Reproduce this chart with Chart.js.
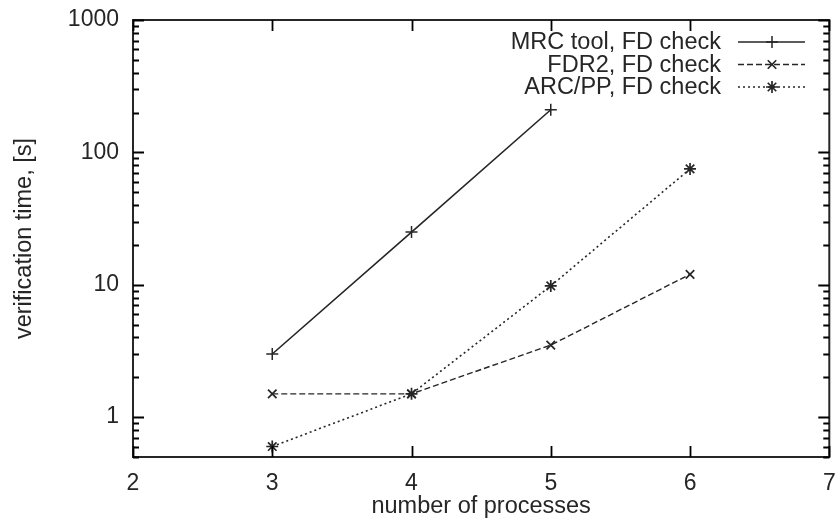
<!DOCTYPE html>
<html>
<head>
<meta charset="utf-8">
<script src="https://cdn.jsdelivr.net/npm/chart.js@4/dist/chart.umd.min.js"></script>
<style>
html,body{margin:0;padding:0;background:#fff;}
#wrap{width:837px;height:521px;position:relative;}
</style>
</head>
<body>
<div id="wrap"><canvas id="c" width="837" height="521"></canvas></div>
<script>
const processes = [3, 4, 5, 6];
const seriesNames = ["MRC tool, FD check", "FDR2, FD check", "ARC/PP, FD check"];
const mrcTimes = [3, 25, 210];
const fdr2Times = [1.5, 1.5, 3.5, 12];
const arcTimes = [0.6, 1.5, 9.8, 75];
const xTickLabels = [2, 3, 4, 5, 6, 7];
const yTickLabels = [1, 10, 100, 1000];
const yMinorTicks = [0.5, 0.6, 0.7, 0.8, 0.9, 2, 3, 4, 5, 6, 7, 8, 9, 20, 30, 40, 50, 60, 70, 80, 90, 200, 300, 400, 500, 600, 700, 800, 900];

const FONT = "'Liberation Sans', Arial, Helvetica, sans-serif";
const INK = '#262626';

function pts(vals){ return vals.map((v,i)=>({x:processes[i], y:v})); }

const frame = {
  id:'frame',
  afterDraw(chart){
    const ctx = chart.ctx;
    const a = chart.chartArea, x = chart.scales.x, y = chart.scales.y;
    ctx.save();
    ctx.setLineDash([]);
    ctx.lineCap = 'butt';
    ctx.strokeStyle = INK;
    ctx.lineWidth = 2;
    ctx.strokeRect(a.left, a.top, a.right-a.left, a.bottom-a.top);
    ctx.beginPath();
    const ty = (v, len) => {
      const py = Math.round(y.getPixelForValue(v)) + 0.5;
      ctx.moveTo(a.left, py); ctx.lineTo(a.left + len, py);
      ctx.moveTo(a.right, py); ctx.lineTo(a.right - len, py);
    };
    yTickLabels.forEach(v=>ty(v, 11));
    yMinorTicks.forEach(v=>ty(v, 6));
    xTickLabels.forEach(v=>{
      const px = Math.round(x.getPixelForValue(v)) + 0.5;
      ctx.moveTo(px, a.bottom); ctx.lineTo(px, a.bottom - 11);
      ctx.moveTo(px, a.top); ctx.lineTo(px, a.top + 11);
    });
    ctx.lineWidth = 1.8;
    ctx.strokeStyle = '#000';
    ctx.stroke();

    ctx.font = "23.5px " + FONT;
    ctx.textAlign = 'right';
    ctx.textBaseline = 'middle';
    const rows = [42, 64.5, 87];
    chart.data.datasets.forEach((ds, i)=>{
      const yy = rows[i];
      ctx.fillStyle = INK;
      ctx.fillText(ds.label, 721, yy+1);
      ctx.beginPath();
      ctx.strokeStyle = ds.borderColor;
      ctx.lineWidth = ds.borderWidth;
      ctx.setLineDash(ds.borderDash || []);
      ctx.moveTo(738, yy); ctx.lineTo(805, yy);
      ctx.stroke();
      ctx.setLineDash([]);
      ctx.strokeStyle = ds.borderColor;
      ctx.fillStyle = ds.borderColor;
      ctx.lineWidth = ds.pointBorderWidth;
      Chart.helpers.drawPoint(ctx, {pointStyle: ds.pointStyle, radius: ds.pointRadius, rotation:0, borderWidth: ds.pointBorderWidth}, 772, yy);
    });
    ctx.restore();
  }
};

new Chart(document.getElementById('c'), {
  type: 'line',
  data: {
    datasets: [
      {label: seriesNames[0], data: pts(mrcTimes), borderColor: INK, backgroundColor: INK, borderWidth: 1.6,
       pointStyle: 'cross', pointRadius: 6, pointBorderWidth: 1.5, pointBorderColor: INK},
      {label: seriesNames[1], data: pts(fdr2Times), borderColor: INK, backgroundColor: INK, borderWidth: 1.4, borderDash:[6,3],
       pointStyle: 'crossRot', pointRadius: 6, pointBorderWidth: 1.7, pointBorderColor: INK},
      {label: seriesNames[2], data: pts(arcTimes), borderColor: INK, backgroundColor: INK, borderWidth: 1.6, borderDash:[2,3],
       pointStyle: 'star', pointRadius: 6, pointBorderWidth: 1.7, pointBorderColor: INK}
    ]
  },
  options: {
    responsive: false,
    animation: false,
    layout: {padding: {left: 10, right: 5, top: 20, bottom: 0}},
    plugins: {legend: {display: false}, tooltip: {enabled: false}},
    scales: {
      x: {
        type: 'linear', min: 2, max: 7,
        afterBuildTicks(s){ s.ticks = xTickLabels.map(v=>({value:v})); },
        grid: {display: false, drawTicks: false},
        border: {display: false},
        ticks: {font: {family: FONT, size: 23}, color: INK, padding: 13, maxRotation: 0},
        title: {display: true, text: 'number of processes', font: {family: FONT, size: 23.5}, color: INK, padding: {top: 0, bottom: 0}},
        afterFit(s){ s.height = 64; s.paddingLeft = 0; s.paddingRight = 0; }
      },
      y: {
        type: 'logarithmic', min: 0.5, max: 1000,
        afterBuildTicks(s){ s.ticks = yTickLabels.map(v=>({value:v})); },
        grid: {display: false, drawTicks: false},
        border: {display: false},
        ticks: {font: {family: FONT, size: 23}, color: INK, padding: 14, autoSkip: false,
          callback(v){ return String(v); }},
        title: {display: true, text: 'verification time, [s]', font: {family: FONT, size: 23.5}, color: INK, padding: {top: 0, bottom: 0}},
        afterFit(s){ s.width = 123; s.paddingTop = 0; s.paddingBottom = 0; }
      }
    }
  },
  plugins: [frame]
});
</script>
</body>
</html>
